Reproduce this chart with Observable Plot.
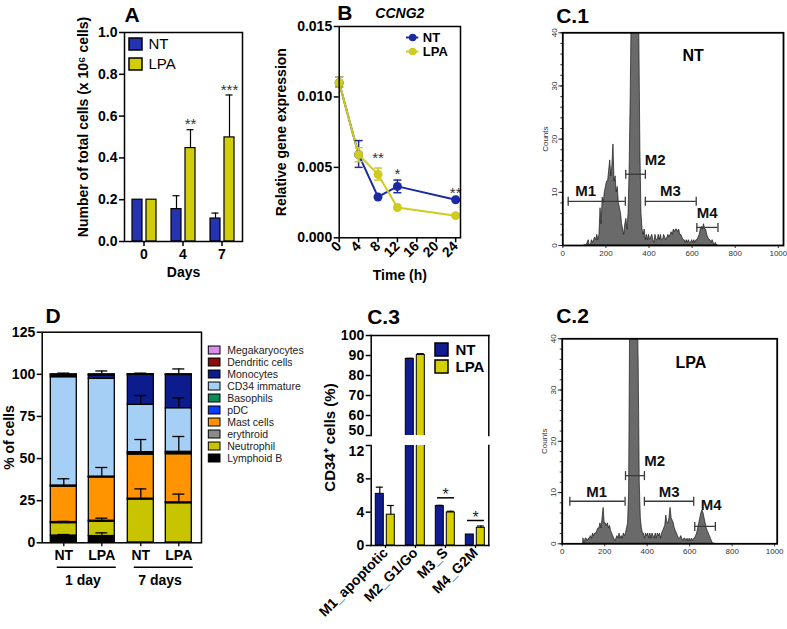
<!DOCTYPE html>
<html><head><meta charset="utf-8">
<script src="https://cdn.jsdelivr.net/npm/d3@7"></script>
<script src="https://cdn.jsdelivr.net/npm/@observablehq/plot@0.6"></script>
<style>
html,body{margin:0;padding:0;background:#fff;}
#fig{position:relative;width:787px;height:629px;overflow:hidden;background:#fff;}
</style></head><body><div id="fig"></div>
<script>
// ---------------- DATA ----------------
// Panel A
const aDays = ["0", "4", "7"];
const aGroups = ["NT", "LPA"];
const aColors = ["#2633b0", "#d2cd0c"];
const aNT = [0.20, 0.155, 0.11];
const aNTerr = [0, 0.064, 0.026];
const aLPA = [0.20, 0.447, 0.498];
const aLPAerr = [0, 0.088, 0.203];
const aStarText = ["", "**", "***"];
const aStarY = [0, 0.58, 0.743];
const aYTicks = [0, 0.2, 0.4, 0.6, 0.8, 1.0];
const aYLabel = "Number of total cells (x 10⁶ cells)";
const aXLabel = "Days";

// Panel B
const bGroups = ["NT", "LPA"];
const bColors = ["#1b2aa3", "#cfcc1f"];
const bTimes = [0, 4, 8, 12, 24];
const bNT = [0.0110, 0.0059, 0.0029, 0.00365, 0.0027];
const bNTlo = [0.0107, 0.0050, null, 0.0032, null];
const bNThi = [0.0114, 0.0069, null, 0.0041, null];
const bLPA = [0.0110, 0.0059, 0.0045, 0.00215, 0.00157];
const bLPAlo = [0.0107, 0.0054, 0.0041, null, null];
const bLPAhi = [0.0114, 0.0064, 0.00495, null, null];
const bStarT = [8, 12, 24];
const bStarY = [0.00596, 0.00478, 0.00348];
const bStarText = ["**", "*", "**"];
const bXTicks = [0, 4, 8, 12, 16, 20, 24];
const bYTicks = [0, 0.005, 0.010, 0.015];
const bYLabel = "Relative gene expression";
const bXLabel = "Time (h)";
const bTitle = "CCNG2";

// Panels C.1 / C.2 (flow histograms, counts per 5-channel bin from channel 100 to 720)
const histChannels = d3.range(100, 721, 5);
const c1Counts = [
  0,0,0,0.5,1,0,0,1,0.5,1,
  1.5,1,2,1,2,7,4,9,8,10,
  11,12,12,14,16,13,15,19,12,13,
  10,11,8,7,6,4,3,2,4,5,
  3,6,14,28,45,65,80,90,85,75,
  60,40,18,6,3,2,3,1,2,1,
  2,1,1.5,2,1,0.5,2,1,1,2,
  1,2,1,1,2,1.5,1,1.5,2,1.5,
  2,2.5,2,3,2.5,3,3,2.5,3,2,
  2,1.5,1,1,0.5,1,0.5,1,0.5,0.5,
  1,0.5,1,0.5,1,1,1.5,2,3,3.5,
  3,4,3,3,2,1.5,1,1,0.5,1,
  0.5,0,0.5,0,0];
const c2Counts = [
  1,0,1,1,0.5,1,1,1.5,1,2,
  1.5,2,2,2.5,3,3,4,3,5,7,
  4,4,3.5,4,3,3.5,2.5,2,1.5,1,
  0.5,1,1.5,1,2,1,1.5,1,2,1.5,
  2,3,4,10,45,60,80,95,90,80,
  65,50,35,12,5,3,2,2,1,2,
  1.5,2,1,2,1,2,1.5,1,2,1,
  2,1.5,2,1,2,2.5,3,3.5,5.5,4,
  4,5,7,5,4.5,4,3,2.5,2,1.5,
  1,1,1.5,1,0.5,1,1,0.5,1,0.5,
  1,0.5,1,0.5,1,1,1.5,2,3,4,
  5,6,6.5,6,5,4,3,2.5,2,1.5,
  1,0.5,0,0,0];
const gateNames = ["M1", "M2", "M3", "M4"];
const c1GateX1 = [25, 292, 383, 622];
const c1GateX2 = [290, 383, 619, 720];
const c1GateY = [8.3, 13.4, 8.3, 3.4];
const c1GateLabelX = [106, 429, 499, 670];
const c1GateLabelY = [10.2, 16.1, 10.2, 6.0];
const c2GateX1 = [36, 298, 387, 624];
const c2GateX2 = [296, 387, 619, 721];
const c2GateY = [8.3, 13.3, 8.3, 3.4];
const c2GateLabelX = [162, 435, 504, 701];
const c2GateLabelY = [10.0, 16.2, 10.0, 7.5];
const c1Tag = {text: "NT", x: 605, y: 35.7};
const c2Tag = {text: "LPA", x: 606, y: 35.4};
const histXTicks = [0, 200, 400, 600, 800, 1000];
const histYTicks = [0, 10, 20, 30, 40];
const histYMinor = d3.range(0, 41, 2);
const histYLabel = "Counts";

// Panel D (stacked, listed in legend order top -> bottom; values bottom -> top)
const dCats = ["Megakaryocytes", "Dendritic cells", "Monocytes", "CD34 immature", "Basophils", "pDC", "Mast cells", "erythroid", "Neutrophil", "Lymphoid B"];
const dColors = ["#d98ce8", "#8b0c0c", "#0c1c8c", "#a6cff5", "#0a8a55", "#0a3cff", "#ff9400", "#8a8a8a", "#c8c400", "#000000"];
const dDays = ["1 day", "7 days"];
const dGroups = ["NT", "LPA"];
// order: Lymphoid B, Neutrophil, erythroid, Mast cells, pDC, Basophils, CD34 immature, Monocytes, Dendritic cells, Megakaryocytes
const dNT1 = [4.3, 7.4, 0.6, 21.1, 0.3, 0.3, 64.3, 1.0, 0.4, 0.3];
const dLPA1 = [4.0, 8.5, 0.6, 25.7, 0.3, 0.2, 58.0, 2.0, 0.4, 0.3];
const dNT7 = [0.2, 25.5, 0.5, 26.2, 0.8, 0.6, 28.1, 17.8, 0.2, 0.1];
const dLPA7 = [0.2, 23.3, 0.5, 28.6, 0.8, 0.6, 25.9, 19.7, 0.2, 0.2];
const dNT1err = [0.6, 1.0, 0, 4.6, 0, 0, 0, 0, 0, 0.7];
const dLPA1err = [1.9, 2.1, 0, 5.9, 0, 0, 0, 0, 0, 2.0];
const dNT7err = [0, 6.3, 0, 8.9, 0, 0, 5.5, 0, 0, 0.7];
const dLPA7err = [0, 5.4, 0, 10.5, 0, 0, 6.1, 0, 0, 3.2];
const dYTicks = [0, 25, 50, 75, 100, 125];
const dYLabel = "% of cells";

// Panel C.3
const c3Cats = ["M1_apoptotic", "M2_G1/Go", "M3_S", "M4_G2M"];
const c3Groups = ["NT", "LPA"];
const c3Colors = ["#101c90", "#d6d000"];
const c3NT = [6.2, 88.3, 4.72, 1.32];
const c3NTerr = [0.8, 0.3, 0.1, 0];
const c3LPA = [3.7, 90.3, 3.96, 2.12];
const c3LPAerr = [1.1, 0.6, 0.15, 0.22];
const c3SigCats = ["M3_S", "M4_G2M"];
const c3SigLineY = [5.72, 3.0];
const c3SigStarY = [6.6, 3.8];
const c3UpperTicks = [60, 70, 80, 90, 100];
const c3UpperEdgeTick = [50];
const c3LowerTicks = [0, 4, 8];
const c3LowerEdgeTick = [12];
const c3YLabel = "CD34⁺ cells (%)";

// ---------------- HELPERS ----------------
const fig = document.getElementById("fig");
const FONT = '"Liberation Sans", Arial, Helvetica, sans-serif';
const baseStyle = {fontFamily: FONT, fontSize: "14px", fontWeight: "bold", background: "transparent", overflow: "visible", color: "#000"};
function place(el, left, top) {
  el.style.position = "absolute";
  el.style.left = left + "px";
  el.style.top = top + "px";
  fig.appendChild(el);
  return el;
}
const idf = d => d;
const hbar = {draw(ctx, size) { const r = Math.sqrt(size / Math.PI); ctx.moveTo(-r, 0); ctx.lineTo(r, 0); }};
const vbar = {draw(ctx, size) { const r = Math.sqrt(size / Math.PI); ctx.moveTo(0, -r); ctx.lineTo(0, r); }};
function title(t, dx, dy) {
  return Plot.text([t], {text: idf, frameAnchor: "top-left", dx, dy, textAnchor: "start", lineAnchor: "middle", fontSize: 21});
}
function swatchLegend(items, colors, o) {
  return Plot.plot({
    width: o.width, height: o.height, marginLeft: o.ml, marginRight: o.mr, marginTop: o.mt, marginBottom: o.mb,
    style: baseStyle,
    y: {domain: items, paddingInner: o.pi, paddingOuter: o.pi / 2, axis: null},
    color: {domain: items, range: colors},
    marks: [
      Plot.cell(items, {y: idf, fill: idf, stroke: "#000", strokeWidth: o.sw}),
      Plot.text(items, {y: idf, text: idf, frameAnchor: "right", dx: o.gap, textAnchor: "start", lineAnchor: "middle",
        fontSize: o.fs, fontWeight: o.fw, fill: o.fill || "#000"})
    ]
  });
}

// ---------------- PANEL A ----------------
const aDims = {width: 260, height: 290, marginLeft: 124, marginRight: 18, marginTop: 32, marginBottom: 49};
const aData = aDays.flatMap((day, i) => [
  {day, g: "NT", v: aNT[i], e: aNTerr[i], hi: aNT[i] + aNTerr[i]},
  {day, g: "LPA", v: aLPA[i], e: aLPAerr[i], hi: aLPA[i] + aLPAerr[i]}
]);
const aStars = aDays.map((day, i) => ({day, g: "LPA", y: aStarY[i], s: aStarText[i]})).filter(d => d.s);
place(Plot.plot({
  ...aDims, style: baseStyle,
  fx: {domain: aDays, paddingInner: 0.2, paddingOuter: 0.08},
  x: {domain: aGroups, paddingInner: 0.3, paddingOuter: 0.21, axis: null},
  y: {domain: [0, 1], axis: null},
  color: {domain: aGroups, range: aColors},
  marks: [
    Plot.barY(aData, {fx: "day", x: "g", y: "v", fill: "g", stroke: "#000", strokeWidth: 1.2}),
    Plot.ruleX(aData.filter(d => d.e > 0), {fx: "day", x: "g", y1: "v", y2: "hi", stroke: "#000", strokeWidth: 1.2}),
    Plot.tickY(aData.filter(d => d.e > 0), {fx: "day", x: "g", y: "hi", stroke: "#000", strokeWidth: 1.2, insetLeft: 1.5, insetRight: 1.5}),
    Plot.text(aStars, {fx: "day", x: "g", y: "y", text: "s", lineAnchor: "middle", dy: 4, fontSize: 15, fontWeight: "normal", fill: "#333"}),
    Plot.axisFx({anchor: "bottom", tickSize: 5, tickPadding: 3, strokeWidth: 1.5, label: null})
  ]
}), 0, 0);
place(Plot.plot({
  ...aDims, style: baseStyle,
  y: {domain: [0, 1]},
  marks: [
    Plot.frame({stroke: "#000", strokeWidth: 1.5}),
    Plot.axisY({ticks: aYTicks, tickFormat: d3.format(".1f"), tickSize: 5, tickPadding: 2, strokeWidth: 1.5, label: null}),
    Plot.text([aYLabel], {text: idf, frameAnchor: "left", dx: -41, dy: -10, rotate: -90, textAnchor: "middle", lineAnchor: "middle"}),
    Plot.text([aXLabel], {text: idf, frameAnchor: "bottom", dy: 31, lineAnchor: "middle"}),
    title("A", 0, -17)
  ]
}), 0, 0);
place(swatchLegend(aGroups, aColors, {width: 70, height: 48, ml: 9, mr: 48, mt: 3.75, mb: 3.25, pi: 0.39, sw: 1.5, gap: 6, fs: 15, fw: "normal"}), 120, 30);

// ---------------- PANEL B ----------------
const bData = [
  ...bTimes.map((t, i) => ({g: "NT", t, v: bNT[i], lo: bNTlo[i], hi: bNThi[i]})),
  ...bTimes.map((t, i) => ({g: "LPA", t, v: bLPA[i], lo: bLPAlo[i], hi: bLPAhi[i]}))
];
const bErr = bData.filter(d => d.lo != null);
const bStars = bStarT.map((t, i) => ({t, y: bStarY[i], s: bStarText[i]}));
place(Plot.plot({
  width: 240, height: 295, marginLeft: 98.7, marginRight: 20, marginTop: 26, marginBottom: 57.7,
  style: baseStyle,
  x: {domain: [0, 25]}, y: {domain: [0, 0.015]},
  color: {domain: bGroups, range: bColors},
  marks: [
    Plot.line(bData, {x: "t", y: "v", stroke: "g", z: "g", strokeWidth: 2}),
    Plot.ruleX(bErr, {x: "t", y1: "lo", y2: "hi", stroke: "g", strokeWidth: 1.5}),
    Plot.dot(bErr, {x: "t", y: "lo", symbol: hbar, r: 4, stroke: "g", fill: "none", strokeWidth: 1.5}),
    Plot.dot(bErr, {x: "t", y: "hi", symbol: hbar, r: 4, stroke: "g", fill: "none", strokeWidth: 1.5}),
    Plot.dot(bData, {x: "t", y: "v", fill: "g", r: 4.5}),
    Plot.text(bStars, {x: "t", y: "y", text: "s", lineAnchor: "middle", dy: 4, fontSize: 15, fontWeight: "normal", fill: "#333"}),
    Plot.frame({stroke: "#000", strokeWidth: 1.5}),
    Plot.axisY({ticks: bYTicks, tickFormat: d3.format(".3f"), tickSize: 5, tickPadding: 2, strokeWidth: 1.5, label: null}),
    Plot.axisX({ticks: bXTicks, tickRotate: -45, tickSize: 5, tickPadding: 1, strokeWidth: 1.5, label: null}),
    Plot.text([bYLabel], {text: idf, frameAnchor: "left", dx: -58, rotate: -90, textAnchor: "middle", lineAnchor: "middle"}),
    Plot.text([bXLabel], {text: idf, frameAnchor: "bottom", dy: 37.7, lineAnchor: "middle"}),
    Plot.text([bTitle], {text: idf, frameAnchor: "top", dy: -13.3, lineAnchor: "middle", fontStyle: "italic", fontSize: 14}),
    title("B", -2, -13.3)
  ]
}), 240, 0);
// B legend (line + dot swatches)
place(Plot.plot({
  width: 80, height: 36, marginLeft: 6, marginRight: 61.7, marginTop: 5, marginBottom: 3,
  style: baseStyle,
  y: {type: "point", domain: bGroups, padding: 0.5, axis: null},
  color: {domain: bGroups, range: bColors},
  marks: [
    Plot.tickY(bGroups, {y: idf, stroke: idf, strokeWidth: 2}),
    Plot.dot(bGroups, {y: idf, fill: idf, r: 3.8}),
    Plot.text(bGroups, {y: idf, text: idf, frameAnchor: "right", dx: 4, textAnchor: "start", lineAnchor: "middle", fontSize: 13})
  ]
}), 400, 25);

// ---------------- PANELS C.1 / C.2 ----------------
function histPanel(counts, gX1, gX2, gY, gLX, gLY, tag, ttl, dims, xMax, tdx, tdy) {
  const hist = histChannels.map((ch, i) => ({ch, n: counts[i]}));
  const gates = gateNames.map((name, i) => ({name, x1: gX1[i], x2: gX2[i], y: gY[i], lx: gLX[i], ly: gLY[i]}));
  return Plot.plot({
    ...dims, style: baseStyle,
    x: {domain: [0, xMax]}, y: {domain: [0, 40]},
    marks: [
      Plot.areaY(hist, {x: "ch", y: "n", fill: "#6a6a6a", stroke: "#1a1a1a", strokeWidth: 0.7, clip: true}),
      Plot.ruleY(gates, {y: "y", x1: "x1", x2: "x2", stroke: "#3a3a3a", strokeWidth: 1.3}),
      Plot.dot(gates, {x: "x1", y: "y", symbol: vbar, r: 4.5, stroke: "#3a3a3a", fill: "none", strokeWidth: 1.3}),
      Plot.dot(gates, {x: "x2", y: "y", symbol: vbar, r: 4.5, stroke: "#3a3a3a", fill: "none", strokeWidth: 1.3}),
      Plot.text(gates, {x: "lx", y: "ly", text: "name", fontSize: 15, lineAnchor: "middle", fill: "#111"}),
      Plot.text([tag], {x: "x", y: "y", text: "text", fontSize: 16, lineAnchor: "middle"}),
      Plot.frame({stroke: "#000", strokeWidth: 1.8}),
      Plot.axisY({ticks: histYMinor, tickSize: 2, tickFormat: () => "", strokeWidth: 0.8, label: null}),
      Plot.axisY({ticks: histYTicks, tickSize: 4, tickPadding: 2, tickRotate: -90, strokeWidth: 0.8, fontSize: 8, fontWeight: "normal", fill: "#333", label: null}),
      Plot.axisX({ticks: histXTicks, tickFormat: d3.format("d"), tickSize: 3, tickPadding: 2, strokeWidth: 0.8, fontSize: 8, fontWeight: "normal", fill: "#333", label: null}),
      Plot.text([histYLabel], {text: idf, frameAnchor: "left", dx: -17.3, rotate: -90, textAnchor: "middle", lineAnchor: "middle", fontSize: 8, fontWeight: "normal", fill: "#333"}),
      title(ttl, tdx, tdy)
    ]
  });
}
place(histPanel(c1Counts, c1GateX1, c1GateX2, c1GateY, c1GateLabelX, c1GateLabelY, c1Tag, "C.1",
  {width: 267, height: 295, marginLeft: 42.3, marginRight: 4, marginTop: 32.3, marginBottom: 50}, 1024, -6.6, -16.5), 520, 0);
place(histPanel(c2Counts, c2GateX1, c2GateX2, c2GateY, c2GateLabelX, c2GateLabelY, c2Tag, "C.2",
  {width: 267, height: 290, marginLeft: 41.7, marginRight: 10.3, marginTop: 43.3, marginBottom: 41.7}, 1012, -6, -22.3), 520, 295);

// ---------------- PANEL D ----------------
const dStack = dCats.slice().reverse();
const dValues = {"1 day": {NT: dNT1, LPA: dLPA1}, "7 days": {NT: dNT7, LPA: dLPA7}};
const dErrs = {"1 day": {NT: dNT1err, LPA: dLPA1err}, "7 days": {NT: dNT7err, LPA: dLPA7err}};
const dData = [], dErr = [];
for (const day of dDays) for (const g of dGroups) {
  let top = 0;
  dStack.forEach((cat, i) => {
    const v = dValues[day][g][i];
    dData.push({day, g, cat, v});
    top += v;
    const e = dErrs[day][g][i];
    if (e > 0) dErr.push({day, g, y1: top, y2: top + e});
  });
}
const dDims = {width: 210, height: 334, marginLeft: 41.7, marginRight: 9, marginTop: 36.7, marginBottom: 86.7};
place(Plot.plot({
  ...dDims, style: baseStyle,
  fx: {domain: dDays, paddingInner: 0, paddingOuter: 0.025},
  x: {domain: dGroups, paddingInner: 0.322, paddingOuter: 0.17, axis: null},
  y: {domain: [0, 125], axis: null},
  color: {domain: dCats, range: dColors},
  marks: [
    Plot.barY(dData, {fx: "day", x: "g", y: "v", fill: "cat", stroke: "#000", strokeWidth: 1.3}),
    Plot.ruleX(dErr, {fx: "day", x: "g", y1: "y1", y2: "y2", stroke: "#000", strokeWidth: 1.3}),
    Plot.tickY(dErr, {fx: "day", x: "g", y: "y2", stroke: "#000", strokeWidth: 1.3, insetLeft: 7, insetRight: 7}),
    Plot.axisX({tickSize: 4, tickPadding: 3, strokeWidth: 1.3, label: null}),
    Plot.axisFx({anchor: "bottom", tickSize: 0, tickPadding: 32, label: null}),
    Plot.frame({anchor: "bottom", dy: 24.4, insetLeft: 13, insetRight: 6.5, stroke: "#000", strokeWidth: 1.5})
  ]
}), 0, 295);
place(Plot.plot({
  ...dDims, style: baseStyle,
  y: {domain: [0, 125]},
  marks: [
    Plot.frame({stroke: "#000", strokeWidth: 1.5}),
    Plot.axisY({ticks: dYTicks, tickSize: 5, tickPadding: 2, strokeWidth: 1.5, label: null}),
    Plot.text([dYLabel], {text: idf, frameAnchor: "left", dx: -32.4, rotate: -90, textAnchor: "middle", lineAnchor: "middle"}),
    title("D", 3.3, -16)
  ]
}), 0, 295);
place(swatchLegend(dCats, dColors, {width: 130, height: 140, ml: 8.3, mr: 110, mt: 12.1, mb: 4.6, pi: 0.35, sw: 1, gap: 6.7, fs: 10.5, fw: "normal", fill: "#222"}), 200, 330);

// ---------------- PANEL C.3 (broken axis) ----------------
const c3Data = c3Cats.flatMap((cat, i) => [
  {cat, g: "NT", v: c3NT[i], e: c3NTerr[i], hi: c3NT[i] + c3NTerr[i]},
  {cat, g: "LPA", v: c3LPA[i], e: c3LPAerr[i], hi: c3LPA[i] + c3LPAerr[i]}
]);
const c3E = c3Data.filter(d => d.e > 0);
const c3Sig = c3SigCats.map((cat, i) => ({cat, y: c3SigLineY[i], sy: c3SigStarY[i]}));
const c3Common = {
  fx: {domain: c3Cats, paddingInner: 0.2, paddingOuter: 0.055},
  x: {domain: c3Groups, paddingInner: 0.307, paddingOuter: 0.209, axis: null},
  color: {domain: c3Groups, range: c3Colors}
};
function c3Bars() {
  return [
    Plot.barY(c3Data, {fx: "cat", x: "g", y: "v", fill: "g", stroke: "#000", strokeWidth: 1, clip: true}),
    Plot.ruleX(c3E, {fx: "cat", x: "g", y1: "v", y2: "hi", stroke: "#000", strokeWidth: 1.2, clip: true}),
    Plot.tickY(c3E, {fx: "cat", x: "g", y: "hi", stroke: "#000", strokeWidth: 1.2, insetLeft: 0.5, insetRight: 0.5, clip: true})
  ];
}
const c3UpDims = {width: 220, height: 145, marginLeft: 50.7, marginRight: 51.7, marginTop: 40, marginBottom: 5};
const c3LoDims = {width: 220, height: 189, marginLeft: 50.7, marginRight: 51.7, marginTop: 5, marginBottom: 84};
place(Plot.plot({
  ...c3UpDims, style: baseStyle, ...c3Common,
  fx: {...c3Common.fx, axis: null},
  y: {domain: [50, 100], axis: null},
  marks: c3Bars()
}), 320, 295);
place(Plot.plot({
  ...c3LoDims, style: baseStyle, ...c3Common,
  y: {domain: [0, 12], axis: null},
  marks: [
    ...c3Bars(),
    Plot.ruleY(c3Sig, {fx: "cat", y: "y", stroke: "#000", strokeWidth: 1.5, insetLeft: 4, insetRight: 3}),
    Plot.text(c3Sig, {fx: "cat", y: "sy", text: () => "*", lineAnchor: "middle", dy: 4, fontSize: 16, fontWeight: "normal", fill: "#222"}),
    Plot.axisFx({anchor: "bottom", tickRotate: -45, tickSize: 3, tickPadding: 2, strokeWidth: 1.3, label: null})
  ]
}), 320, 440);
place(Plot.plot({
  ...c3UpDims, style: baseStyle,
  y: {domain: [50, 100]},
  marks: [
    Plot.frame({anchor: "top", stroke: "#000", strokeWidth: 1.5}),
    Plot.frame({anchor: "left", stroke: "#000", strokeWidth: 1.5}),
    Plot.frame({anchor: "right", stroke: "#000", strokeWidth: 1.5}),
    Plot.axisY({ticks: c3UpperTicks, tickSize: 5, tickPadding: 2, strokeWidth: 1.5, label: null}),
    Plot.axisY({ticks: c3UpperEdgeTick, tickSize: 5, tickFormat: () => "", strokeWidth: 1.5, label: null}),
    Plot.text(c3UpperEdgeTick, {y: idf, text: idf, frameAnchor: "left", dx: -7, textAnchor: "end", lineAnchor: "bottom", dy: -0.5}),
    title("C.3", -4, -18)
  ]
}), 320, 295);
place(Plot.plot({
  ...c3LoDims, style: baseStyle,
  y: {domain: [0, 12]},
  marks: [
    Plot.frame({anchor: "bottom", stroke: "#000", strokeWidth: 1.5}),
    Plot.frame({anchor: "left", stroke: "#000", strokeWidth: 1.5}),
    Plot.frame({anchor: "right", stroke: "#000", strokeWidth: 1.5}),
    Plot.axisY({ticks: c3LowerTicks, tickSize: 5, tickPadding: 2, strokeWidth: 1.5, label: null}),
    Plot.axisY({ticks: c3LowerEdgeTick, tickSize: 5, tickFormat: () => "", strokeWidth: 1.5, label: null}),
    Plot.text(c3LowerEdgeTick, {y: idf, text: idf, frameAnchor: "left", dx: -7, textAnchor: "end", lineAnchor: "top", dy: 0.5}),
    Plot.text([c3YLabel], {text: idf, frameAnchor: "top-left", dx: -40.7, dy: -8, rotate: -90, textAnchor: "middle", lineAnchor: "middle", fontSize: 15})
  ]
}), 320, 440);
place(swatchLegend(c3Groups, c3Colors, {width: 58, height: 45, ml: 5, mr: 40, mt: 5.75, mb: 4.25, pi: 0.257, sw: 1.5, gap: 7, fs: 15, fw: "bold"}), 430, 335);
</script></body></html>
